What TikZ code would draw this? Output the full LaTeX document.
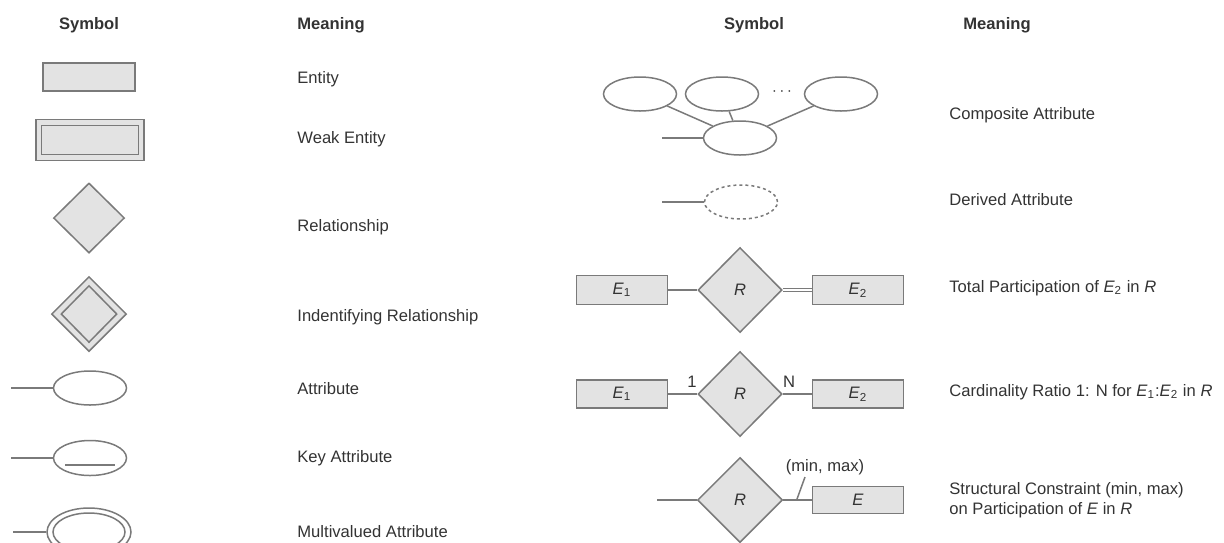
\documentclass[tikz,border=0pt]{standalone}
\usepackage{fontspec}
\setmainfont{Liberation Sans}
\usepackage{xcolor}
\usetikzlibrary{shapes.geometric}
\usetikzlibrary{positioning}
\definecolor{erline}{HTML}{7A7A7A}
\definecolor{erfill}{HTML}{E3E3E3}
\definecolor{ertext}{HTML}{333333}
\newcommand{\ent}[1]{\textit{E}\textsubscript{#1}}

\begin{document}
\begin{tikzpicture}[x=0.5pt,y=-0.5pt,
		font=\fontsize{8.3}{10}\selectfont, text=ertext,
		lin/.style={draw=erline, line width=0.75pt},
		entity/.style={lin, fill=erfill, rectangle, minimum width=46pt, minimum height=14pt, inner sep=0pt},
		rel/.style={lin, fill=erfill, diamond, inner sep=0pt, minimum width=35.5pt, minimum height=35pt},
		attr/.style={lin, ellipse, inner sep=0pt, minimum width=36.5pt, minimum height=17pt},
		head/.style={font=\fontsize{8.3}{10}\selectfont\bfseries},
		meaning/.style={anchor=west, align=left, inner sep=0pt}]
		\useasboundingbox (0,0) rectangle (1224,542);
		\clip (0,0) rectangle (1224,542);
		\node[head] (hsyma) at (89,25) {Symbol};
		\node[head, anchor=west, inner sep=0pt] (hmeana) at (297,25) {Meaning};
		\node[head] (hsymb) at (754,25) {Symbol};
		\node[head, anchor=west, inner sep=0pt] (hmeanb) at (963,25) {Meaning};
		% left column
		\node[entity] (ent) at (89,77) {};
		\node[meaning] (ment) at (297,79) {Entity};
		\node[entity, minimum width=54pt, minimum height=20.5pt] (wento) at (90,140) {};
		\node[entity, minimum width=48.5pt, minimum height=14.5pt] (wenti) at (90,140) {};
		\node[meaning] (mwent) at (297,139) {Weak Entity};
		\node[rel] (rel) at (89,218) {};
		\node[meaning] (mrel) at (297,227) {Relationship};
		\node[rel, minimum width=37.5pt, minimum height=37.5pt] (idrelo) at (89,314) {};
		\node[rel, minimum width=28pt, minimum height=28.5pt] (idreli) at (89,314) {};
		\node[meaning] (midrel) at (297,317) {Indentifying Relationship};
		\node[attr] (att) at (90,388) {};
		\coordinate (attl) at (11,388);
		\draw[lin] (attl) -- (att);
		\node[meaning] (matt) at (297,389) {Attribute};
		\node[attr, minimum height=17.5pt] (katt) at (90,458) {};
		\coordinate (kattl) at (11,458);
		\draw[lin] (kattl) -- (katt);
		\draw[lin] ([shift={(-25,7)}]katt.center) -- ([shift={(25,7)}]katt.center);
		\node[meaning] (mkatt) at (297,458) {Key Attribute};
		\node[attr, minimum width=42pt, minimum height=24pt] (mvatto) at (89,532) {};
		\node[attr, minimum width=36pt, minimum height=19pt] (mvatti) at (89,532) {};
		\coordinate (mvattl) at (13,532);
		\draw[lin] (mvattl) -- (mvatto);
		\node[meaning] (mmvatt) at (297,532) {Multivalued Attribute};
		% right column
		\node[attr] (catta) at (640,94) {};
		\node[attr] (cattb) at (722,94) {};
		\node[attr] (cattc) at (841,94) {};
		\node (cdots) at (782,92) {$\cdots$};
		\node[attr] (catt) at (740,138) {};
		\coordinate (cattl) at (662,138);
		\draw[lin] (cattl) -- (catt);
		\foreach \part in {catta,cattb,cattc}
		{
			\draw[lin] (\part) -- (catt);
		}
		\node[meaning] (mcatt) at (949,115) {Composite Attribute};
		\node[attr, dash pattern=on 1.5pt off 1.5pt] (datt) at (741,202) {};
		\coordinate (dattl) at (662,202);
		\draw[lin] (dattl) -- (datt);
		\node[meaning] (mdatt) at (949,200) {Derived Attribute};
		\node[entity, minimum width=45.5pt, minimum height=14.5pt] (tea) at (622,290) {\ent{1}};
		\node[rel, minimum width=42pt, minimum height=42.5pt] (tr) at (740,290) {\textit{R}};
		\node[entity, minimum width=45.5pt, minimum height=14.5pt] (teb) at (858,290) {\ent{2}};
		\draw[lin] (tea) -- (tr);
		\draw[draw=erline, line width=0.6pt, double, double distance=1.2pt] (tr.east) -- (teb.west);
		\node[meaning] (mtot) at (949,288) {Total Participation of \ent{2} in \textit{R}};
		\node[entity, minimum width=45.5pt, minimum height=14pt] (cea) at (622,394) {\ent{1}};
		\node[rel, minimum width=42pt, minimum height=42.5pt] (cr) at (740,394) {\textit{R}};
		\node[entity, minimum width=45.5pt, minimum height=14pt] (ceb) at (858,394) {\ent{2}};
		\draw[lin] (cea) -- (cr);
		\draw[lin] (cr) -- (ceb);
		\node (cone) at (692,382) {1};
		\node (cn) at (789,382) {N};
		\node[meaning] (mcard) at (949,392) {Cardinality Ratio 1: N for \ent{1}:\ent{2} in \textit{R}};
		\node[rel, minimum width=42.5pt, minimum height=42.5pt] (sr) at (740,500) {\textit{R}};
		\node[entity, minimum width=45.5pt, minimum height=13.5pt] (se) at (858,500) {\textit{E}};
		\coordinate (srl) at (657,500);
		\draw[lin] (srl) -- (sr);
		\draw[lin] (sr) -- coordinate[pos=0.47] (stick) (se);
		\coordinate (sticktop) at (805,477);
		\draw[lin] (stick) -- (sticktop);
		\node (sminmax) at (825,467) {(min, max)};
		\node[meaning] (mstruct) at (949,500) {Structural Constraint (min, max)\\on Participation of \textit{E} in \textit{R}};
	\end{tikzpicture}
\end{document}
